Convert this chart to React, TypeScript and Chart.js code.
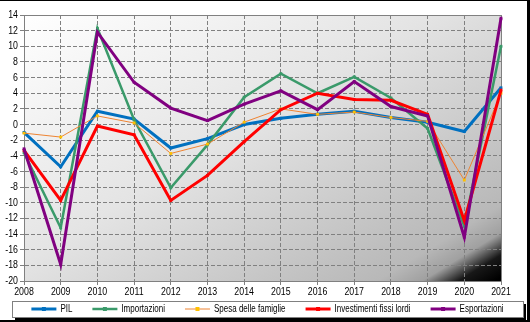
import { useEffect, useRef } from "react";
import { Chart, registerables } from "chart.js";

Chart.register(...registerables);

const years = ["2008", "2009", "2010", "2011", "2012", "2013", "2014", "2015", "2016", "2017", "2018", "2019", "2020", "2021"];
const pil = [-1.0, -5.4, 1.7, 0.7, -3.0, -1.8, 0.0, 0.8, 1.3, 1.7, 0.9, 0.3, -0.9, 4.7];
const importazioni = [-3.6, -13.2, 12.3, 0.6, -8.1, -2.6, 3.5, 6.5, 4.0, 6.1, 3.4, -0.5, -13.0, 10.0];
const spesa = [-1.1, -1.6, 1.1, 0.2, -3.7, -2.5, 0.3, 2.0, 1.3, 1.6, 0.9, 0.4, -7.1, 4.0];
const investimenti = [-3.3, -9.7, -0.2, -1.3, -9.7, -6.5, -2.2, 1.9, 4.0, 3.2, 3.1, 1.3, -12.3, 4.4];
const esportazioni = [-3.1, -17.9, 11.8, 5.4, 2.1, 0.5, 2.6, 4.3, 1.9, 5.5, 2.3, 1.1, -14.4, 13.6];
const seriesNames = ["PIL", "Importazioni", "Spesa delle famiglie", "Investimenti fissi lordi", "Esportazioni"];

const FONT = "'Liberation Sans', Arial, sans-serif";
const SQUEEZE = 0.8;

function narrowText(ctx: CanvasRenderingContext2D, text: string, x: number, y: number, align: "left" | "right" | "center") {
  const w = ctx.measureText(text).width * SQUEEZE;
  let left = x;
  if (align === "right") left = x - w;
  else if (align === "center") left = x - w / 2;
  ctx.save();
  ctx.translate(left, y);
  ctx.scale(SQUEEZE, 1);
  ctx.textAlign = "left";
  ctx.fillText(text, 0, 0);
  ctx.restore();
  return w;
}

const bgPlugin = {
  id: "bgPlugin",
  beforeDraw(chart: any) {
    const { ctx, chartArea: a, width, height } = chart;
    ctx.save();
    ctx.fillStyle = "#ffffff";
    ctx.fillRect(0, 0, width, height);
    const len = (a.right - a.left) * 0.52 + (a.bottom - a.top) * 0.85;
    const g = ctx.createLinearGradient(a.left, a.top, a.left + 0.52 * len, a.top + 0.85 * len);
    g.addColorStop(0, "#ffffff");
    g.addColorStop(0.45, "#e4e4e4");
    g.addColorStop(0.87, "#b8b8b8");
    g.addColorStop(0.92, "#a0a0a0");
    g.addColorStop(0.96, "#181818");
    g.addColorStop(1, "#000000");
    ctx.fillStyle = g;
    ctx.fillRect(a.left, a.top, a.right - a.left, a.bottom - a.top);
    ctx.restore();
  },
  beforeDatasetsDraw(chart: any) {
    const { ctx, chartArea: a } = chart;
    ctx.save();
    ctx.strokeStyle = "#808080";
    ctx.lineWidth = 1;
    ctx.setLineDash([]);
    ctx.strokeRect(Math.round(a.left) + 0.5, Math.round(a.top) + 0.5, Math.round(a.right - a.left), Math.round(a.bottom - a.top));
    ctx.restore();
  },
  afterDraw(chart: any) {
    const { ctx, width, height } = chart;
    ctx.save();
    // tick labels (condensed, drawn from the library's scales)
    ctx.fillStyle = "#000000";
    ctx.font = "11px " + FONT;
    ctx.textBaseline = "middle";
    const xs = chart.scales.x;
    xs.ticks.forEach((t: any, i: number) => {
      const px = xs.getPixelForTick(i);
      narrowText(ctx, String(xs.getLabelForValue(t.value)), px, xs.top + 11, "center");
    });
    const ys = chart.scales.y;
    ys.ticks.forEach((t: any, i: number) => {
      const py = ys.getPixelForTick(i);
      narrowText(ctx, String(t.label), ys.right - 6, py, "right");
    });
    // outer frame
    ctx.fillStyle = "#000000";
    ctx.fillRect(0, 0, width, 1);
    ctx.fillRect(width - 3, 0, 3, height);
    ctx.fillRect(0, height - 2, width, 2);
    // legend box
    const bx = 12, by = 301, bw = 511, bh = 16;
    ctx.fillStyle = "#000000";
    ctx.fillRect(bx + 3, by + 3, bw, bh);
    ctx.fillStyle = "#ffffff";
    ctx.fillRect(bx, by, bw, bh);
    ctx.strokeStyle = "#808080";
    ctx.lineWidth = 1;
    ctx.strokeRect(bx + 0.5, by + 0.5, bw, bh);
    // legend items
    ctx.font = "10px " + FONT;
    ctx.textBaseline = "middle";
    const lineLen = 25, gapText = 4, gapItem = 20;
    const ds = chart.data.datasets;
    let total = 0;
    for (let i = 0; i < ds.length; i++) {
      total += lineLen + gapText + ctx.measureText(ds[i].label).width * SQUEEZE + (i < ds.length - 1 ? gapItem : 0);
    }
    let x = bx + bw / 2 - total / 2;
    const cy = by + bh / 2;
    for (let i = 0; i < ds.length; i++) {
      const d = ds[i];
      ctx.strokeStyle = d.borderColor;
      ctx.lineWidth = d.borderWidth;
      ctx.beginPath();
      ctx.moveTo(x, cy);
      ctx.lineTo(x + lineLen, cy);
      ctx.stroke();
      ctx.fillStyle = d.pointBackgroundColor;
      ctx.fillRect(x + lineLen / 2 - 2, cy - 2, 4, 4);
      ctx.fillStyle = "#000000";
      const w = narrowText(ctx, d.label, x + lineLen + gapText, cy + 0.5, "left");
      x += lineLen + gapText + w + gapItem;
    }
    ctx.restore();
  },
};

export default function App() {
  const ref = useRef<HTMLCanvasElement | null>(null);
  useEffect(() => {
    document.body.style.margin = "0";
    if (!ref.current) return;
    const mk = (label: string, data: number[], color: string, width: number, pointColor: string, order: number) => ({
      label,
      data,
      borderColor: color,
      backgroundColor: color,
      borderWidth: width,
      pointStyle: "rect",
      pointRadius: 2,
      pointHoverRadius: 2,
      pointBorderWidth: 0,
      pointBackgroundColor: pointColor,
      pointBorderColor: pointColor,
      tension: 0,
      clip: false,
      order,
    });
    const chart = new Chart(ref.current, {
      type: "line",
      data: {
        labels: years,
        datasets: [
          mk(seriesNames[0], pil, "#0070C0", 3, "#0070C0", 4),
          mk(seriesNames[1], importazioni, "#3A9A6A", 2.5, "#3A9A6A", 3),
          mk(seriesNames[2], spesa, "#EE8433", 1, "#FFC000", 2),
          mk(seriesNames[3], investimenti, "#FF0000", 3, "#FF0000", 1),
          mk(seriesNames[4], esportazioni, "#800080", 3, "#800080", 0),
        ] as any,
      },
      options: {
        animation: false,
        responsive: false,
        layout: { padding: { left: 0, top: 15, right: 29, bottom: 21 } },
        plugins: { legend: { display: false }, tooltip: { enabled: false } },
        scales: {
          x: {
            offset: false,
            grid: { color: "#808080", lineWidth: 1, tickLength: 4, tickColor: "#808080", drawTicks: true },
            border: { display: true, color: "#808080", dash: [4, 2] },
            ticks: { display: false, autoSkip: false, maxRotation: 0 },
            afterFit: (s: any) => { s.height = 20; },
          },
          y: {
            min: -20,
            max: 14,
            grid: { color: "#808080", lineWidth: 1, tickLength: 4, tickColor: "#808080", drawTicks: true },
            border: { display: true, color: "#808080", dash: [4, 2] },
            ticks: { display: false, stepSize: 2, autoSkip: false },
            afterFit: (s: any) => { s.width = 24; },
          },
        },
      },
      plugins: [bgPlugin],
    });
    return () => chart.destroy();
  }, []);
  return (
    <div style={{ position: "absolute", left: 0, top: 0 }}>
      <canvas ref={ref} width={530} height={322} style={{ width: 530, height: 322, display: "block" }} />
    </div>
  );
}
